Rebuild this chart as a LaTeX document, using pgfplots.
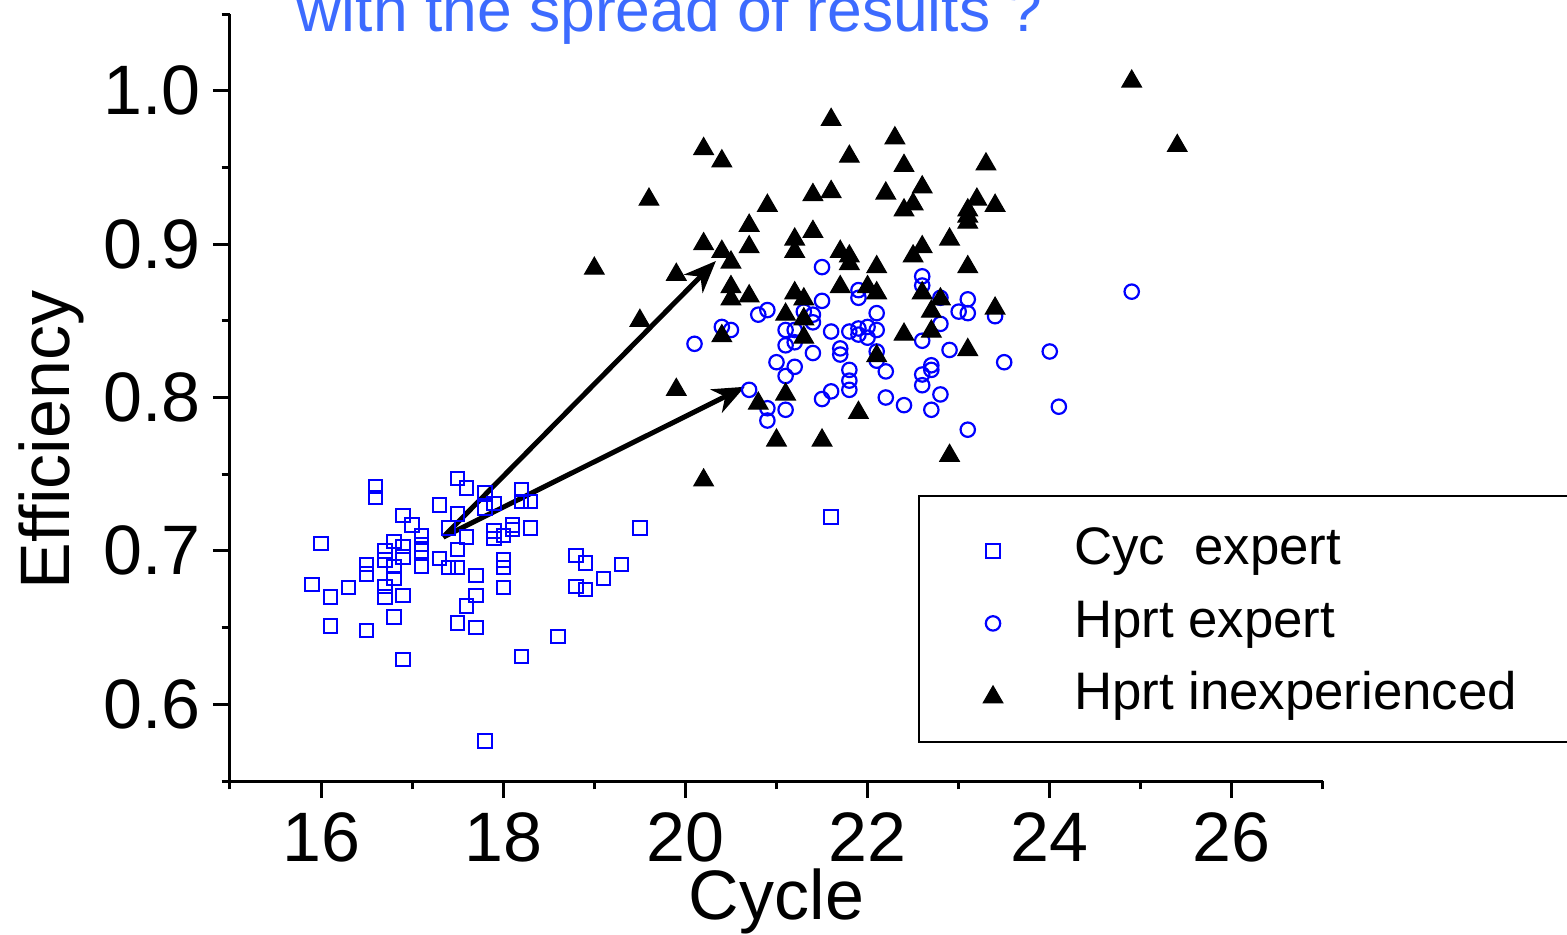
\documentclass[border=0pt]{standalone}
\usepackage{fontspec}
\setmainfont{Liberation Sans}
\usepackage{pgfplots}
\pgfplotsset{compat=1.18}
\usetikzlibrary{arrows.meta}
\definecolor{titleblue}{RGB}{61,107,255}

\begin{document}
\begin{tikzpicture}
\begin{axis}[
  at={(0pt,0pt)}, anchor=south west,
  scale only axis, width=273.25pt, height=191.75pt,
  xmin=15, xmax=27, ymin=0.55, ymax=1.05,
  axis x line*=bottom, axis y line*=left,
  axis line style={line width=0.75pt},
  xtick={16,18,...,26}, minor xtick={15,17,...,27},
  ytick={0.6,0.7,0.8,0.9,1.0}, minor ytick={0.55,0.65,0.75,0.85,0.95,1.05},
  tick align=outside,
  major tick length=4.25pt, minor tick length=2.1pt,
  every tick/.style={line width=0.75pt, black},
  tick label style={font=\fontsize{17.5}{21}\selectfont},
  /pgf/number format/assume math mode=true,
  yticklabel style={xshift=0.5pt, /pgf/number format/fixed, /pgf/number format/fixed zerofill, /pgf/number format/precision=1},
  xlabel={Cycle}, ylabel={Efficiency},
  every axis x label/.style={at={(rel axis cs:0.5,-0.1812)}, anchor=base, font=\fontsize{17.5}{21}\selectfont},
  every axis y label/.style={at={(rel axis cs:-0.1473,0.4446)}, rotate=90, anchor=base, font=\fontsize{17.5}{21}\selectfont},
  legend style={at={(rel axis cs:0.6295,0.3729)}, anchor=north west, draw=black, line width=0.5pt,
    inner xsep=3pt, inner ysep=4.75pt, row sep=2.35pt,
    nodes={inner sep=2pt, text height=10.5pt, text depth=1.25pt},
    font=\fontsize{13.2}{15}\selectfont, fill=white},
  legend cell align=left,
  legend image code/.code={\path[draw=none, fill=none] (0pt,-4pt) rectangle (33.75pt,4pt); \draw[#1] plot coordinates {(15.5pt,-1.125pt)};},
]
\addplot[only marks, color=blue, mark=square, mark size=1.67pt, mark options={line width=0.5pt}] table {
15.9 0.678
16.0 0.705
16.1 0.670
16.1 0.651
16.3 0.676
16.5 0.691
16.5 0.685
16.5 0.648
16.6 0.742
16.6 0.735
16.7 0.700
16.7 0.694
16.7 0.677
16.7 0.670
16.8 0.706
16.8 0.690
16.8 0.682
16.8 0.657
16.9 0.723
16.9 0.703
16.9 0.696
16.9 0.671
16.9 0.629
17.0 0.717
17.1 0.710
17.1 0.704
17.1 0.700
17.1 0.690
17.3 0.730
17.3 0.695
17.4 0.715
17.4 0.689
17.5 0.747
17.5 0.724
17.5 0.701
17.5 0.689
17.5 0.653
17.6 0.741
17.6 0.709
17.6 0.664
17.7 0.684
17.7 0.671
17.7 0.650
17.8 0.738
17.8 0.728
17.8 0.576
17.9 0.731
17.9 0.713
17.9 0.708
18.0 0.710
18.0 0.694
18.0 0.689
18.0 0.676
18.1 0.717
18.1 0.714
18.2 0.740
18.2 0.732
18.2 0.631
18.3 0.732
18.3 0.715
18.6 0.644
18.8 0.697
18.8 0.677
18.9 0.692
18.9 0.675
19.1 0.682
19.3 0.691
19.5 0.715
21.6 0.722
};
\addlegendentry{\makebox[135pt][l]{Cyc\ \ expert}}
\addplot[only marks, color=blue, mark=o, mark size=1.8pt, mark options={line width=0.55pt}] table {
20.1 0.835
20.4 0.846
20.5 0.844
20.7 0.805
20.8 0.854
20.9 0.857
20.9 0.793
20.9 0.785
21.0 0.823
21.1 0.844
21.1 0.834
21.1 0.814
21.1 0.792
21.2 0.844
21.2 0.836
21.2 0.820
21.3 0.856
21.4 0.854
21.4 0.849
21.4 0.829
21.5 0.885
21.5 0.863
21.5 0.799
21.6 0.804
21.6 0.843
21.7 0.832
21.7 0.828
21.8 0.843
21.8 0.818
21.8 0.811
21.8 0.805
21.9 0.870
21.9 0.865
21.9 0.845
21.9 0.841
22.0 0.846
22.0 0.839
22.1 0.855
22.1 0.844
22.1 0.830
22.1 0.824
22.2 0.817
22.2 0.800
22.4 0.795
22.6 0.879
22.6 0.873
22.6 0.837
22.6 0.815
22.6 0.808
22.7 0.821
22.7 0.818
22.7 0.792
22.8 0.865
22.8 0.848
22.8 0.802
22.9 0.831
23.0 0.856
23.1 0.864
23.1 0.855
23.1 0.779
23.4 0.853
23.5 0.823
24.0 0.830
24.1 0.794
24.9 0.869
};
\addlegendentry{\makebox[135pt][l]{Hprt expert}}
\addplot[only marks, color=black, mark=triangle*, mark size=2.8pt, mark options={fill=black, line width=0.3pt, yshift=-0.35pt}] table {
19.0 0.885
19.5 0.851
19.6 0.930
19.9 0.881
19.9 0.806
20.2 0.963
20.2 0.901
20.2 0.747
20.4 0.955
20.4 0.896
20.4 0.841
20.5 0.889
20.5 0.873
20.5 0.865
20.7 0.913
20.7 0.899
20.7 0.867
20.8 0.797
20.9 0.926
21.0 0.773
21.1 0.855
21.1 0.803
21.2 0.904
21.2 0.896
21.2 0.869
21.3 0.865
21.3 0.852
21.3 0.840
21.4 0.933
21.4 0.909
21.5 0.773
21.6 0.982
21.6 0.935
21.7 0.896
21.7 0.873
21.8 0.958
21.8 0.893
21.8 0.888
21.9 0.791
22.0 0.873
22.1 0.886
22.1 0.869
22.1 0.828
22.2 0.934
22.3 0.970
22.4 0.952
22.4 0.923
22.4 0.842
22.5 0.927
22.5 0.893
22.6 0.938
22.6 0.899
22.6 0.869
22.7 0.857
22.7 0.844
22.8 0.865
22.9 0.904
22.9 0.763
23.1 0.923
23.1 0.919
23.1 0.915
23.1 0.886
23.1 0.832
23.2 0.930
23.3 0.953
23.4 0.926
23.4 0.859
24.9 1.007
25.4 0.965
};
\addlegendentry{\makebox[135pt][l]{Hprt inexperienced}}
\draw[line width=1.25pt, -{Stealth[length=8pt, width=6.5pt, inset=2.5pt]}] (axis cs:17.341,0.709) -- (axis cs:20.335,0.889);
\draw[line width=1.25pt, -{Stealth[length=8pt, width=6.5pt, inset=2.5pt]}] (axis cs:17.341,0.709) -- (axis cs:20.653,0.807);
\end{axis}
\node[anchor=base west, inner sep=0pt, text=titleblue, font=\fontsize{15.6}{18}\selectfont] at (16.5pt,187.25pt) {with the spread of results ?};
\pgfresetboundingbox
\useasboundingbox (-57.5pt,-38.25pt) rectangle (334.25pt,195.25pt);
\end{tikzpicture}
\end{document}
